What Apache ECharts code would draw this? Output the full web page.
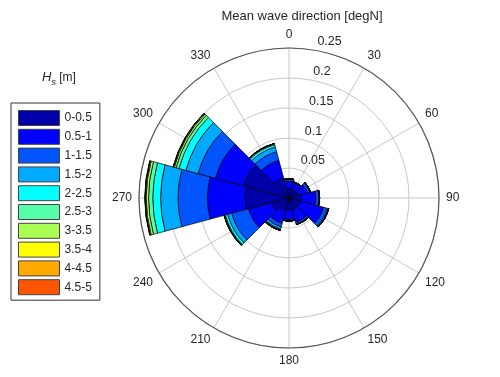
<!DOCTYPE html>
<html>
<head>
<meta charset="utf-8">
<script src="https://cdn.jsdelivr.net/npm/echarts@6/dist/echarts.min.js"></script>
<style>
html,body{margin:0;padding:0;background:#fff;}
#chart{width:500px;height:377px;}
</style>
</head>
<body>
<div id="chart"></div>
<script>
// Direction sectors (degN, centre of each 30° bin)
const directions = [0, 30, 60, 90, 120, 150, 180, 210, 240, 270, 300, 330];
// Hs bins
const hsBins = ['0-0.5', '0.5-1', '1-1.5', '1.5-2', '2-2.5', '2.5-3', '3-3.5', '3.5-4', '4-4.5', '4.5-5'];
// Frequency per direction for each Hs bin
const hs_0_05  = [0.016, 0.015, 0.016, 0.020, 0.020, 0.020, 0.020, 0.022, 0.030, 0.073, 0.078, 0.035];
const hs_05_1  = [0.012, 0.011, 0.016, 0.025, 0.040, 0.022, 0.016, 0.022, 0.040, 0.063, 0.049, 0.030];
const hs_1_15  = [0.003, 0.002, 0.004, 0.005, 0.006, 0.003, 0.002, 0.006, 0.029, 0.049, 0.030, 0.015];
const hs_15_2  = [0.001, 0.000, 0.001, 0.001, 0.002, 0.001, 0.0005, 0.004, 0.007, 0.029, 0.021, 0.008];
const hs_2_25  = [0, 0, 0, 0, 0.0005, 0, 0, 0.0015, 0.004, 0.013, 0.012, 0.004];
const hs_25_3  = [0, 0, 0, 0, 0, 0, 0, 0.0005, 0.0015, 0.007, 0.005, 0.0015];
const hs_3_35  = [0, 0, 0, 0, 0, 0, 0, 0, 0.0005, 0.004, 0.003, 0.0005];
const hs_35_4  = [0, 0, 0, 0, 0, 0, 0, 0, 0, 0.0015, 0.0015, 0];
const hs_4_45  = [0, 0, 0, 0, 0, 0, 0, 0, 0, 0.0005, 0.0005, 0];
const hs_45_5  = [0, 0, 0, 0, 0, 0, 0, 0, 0, 0.0003, 0, 0];
const seriesValues = [hs_0_05, hs_05_1, hs_1_15, hs_15_2, hs_2_25, hs_25_3, hs_3_35, hs_35_4, hs_4_45, hs_45_5];
// Radial tick labels
const radialTicks = [0.05, 0.1, 0.15, 0.2, 0.25];
const radialTickLabels = ['0.05', '0.1', '0.15', '0.2', '0.25'];

const binColors = ['#0000aa', '#0000ff', '#0055ff', '#00aaff', '#00ffff', '#55ffaa', '#aaff55', '#ffff00', '#ffaa00', '#ff5500'];
const FONT = '"Liberation Sans", Arial, Helvetica, sans-serif';
const TXT = '#262626';

const chart = echarts.init(document.getElementById('chart'), null, {renderer: 'canvas'});

const barSeries = hsBins.map((name, i) => ({
  name: name,
  type: 'bar',
  coordinateSystem: 'polar',
  polarIndex: 0,
  stack: 'hs',
  barCategoryGap: '0%',
  data: seriesValues[i],
  itemStyle: {color: binColors[i], borderColor: '#000', borderWidth: 0.7},
  emphasis: {disabled: true},
  z: 3
}));

const labelSeries = {
  type: 'scatter',
  coordinateSystem: 'polar',
  polarIndex: 1,
  symbolSize: 1,
  itemStyle: {color: 'rgba(0,0,0,0)', opacity: 1},
  data: radialTicks.map((r, i) => ({value: [r, 8], name: radialTickLabels[i]})),
  label: {
    show: true, position: 'right', distance: 7, offset: [0, -7.5],
    formatter: p => p.name, fontSize: 12.5, color: TXT, fontFamily: FONT, opacity: 1
  },
  silent: true,
  z: 5
};

chart.setOption({
  animation: false,
  backgroundColor: '#fff',
  textStyle: {fontFamily: FONT},
  title: [
    {
      text: 'Mean wave direction [degN]',
      left: 297, top: 5, textAlign: 'center',
      textStyle: {fontSize: 13, fontWeight: 'normal', color: TXT, fontFamily: FONT}
    },
    {
      text: '{h|H}{s|s}{n| [m]}',
      left: 54, top: 66, textAlign: 'center',
      textStyle: {
        fontSize: 12, fontWeight: 'normal', color: TXT, fontFamily: FONT,
        rich: {
          h: {fontStyle: 'italic', fontSize: 13, color: TXT, fontFamily: FONT, verticalAlign: 'top'},
          s: {fontStyle: 'italic', fontSize: 9, color: TXT, fontFamily: FONT, verticalAlign: 'top', padding: [7, 0, 0, 0]},
          n: {fontSize: 12, color: TXT, fontFamily: FONT, verticalAlign: 'top', padding: [1, 0, 0, 0]}
        }
      }
    }
  ],
  legend: {
    orient: 'vertical',
    left: 11, top: 103,
    padding: [7, 8, 5, 7],
    itemWidth: 41, itemHeight: 15, itemGap: 2.8,
    borderColor: '#333', borderWidth: 1,
    icon: 'rect',
    selectedMode: false,
    data: hsBins,
    itemStyle: {borderColor: '#444', borderWidth: 1},
    textStyle: {fontSize: 12, color: TXT, fontFamily: FONT}
  },
  polar: [
    {center: [289, 198], radius: 150},
    {center: [289, 198], radius: 150}
  ],
  angleAxis: [
    {
      polarIndex: 0, type: 'category', data: directions,
      startAngle: 105, clockwise: true, boundaryGap: true,
      axisLine: {show: false}, axisTick: {show: false}, axisLabel: {show: false}, splitLine: {show: false}
    },
    {
      polarIndex: 1, type: 'value', min: 0, max: 360, interval: 30,
      startAngle: 90, clockwise: true,
      axisLine: {show: true, lineStyle: {color: '#555', width: 1.2}},
      axisTick: {show: false},
      axisLabel: {margin: 7, fontSize: 12, color: TXT, fontFamily: FONT, formatter: v => (v === 360 ? '' : String(v))},
      splitLine: {show: true, lineStyle: {color: '#c8c8c8', width: 1}}
    }
  ],
  radiusAxis: [
    {polarIndex: 0, type: 'value', min: 0, max: 0.25, show: false},
    {
      polarIndex: 1, type: 'value', min: 0, max: 0.25, interval: 0.05,
      axisLine: {show: false}, axisTick: {show: false}, axisLabel: {show: false},
      splitLine: {show: true, lineStyle: {color: '#c8c8c8', width: 1}}
    }
  ],
  series: barSeries.concat([labelSeries])
});
</script>
</body>
</html>
